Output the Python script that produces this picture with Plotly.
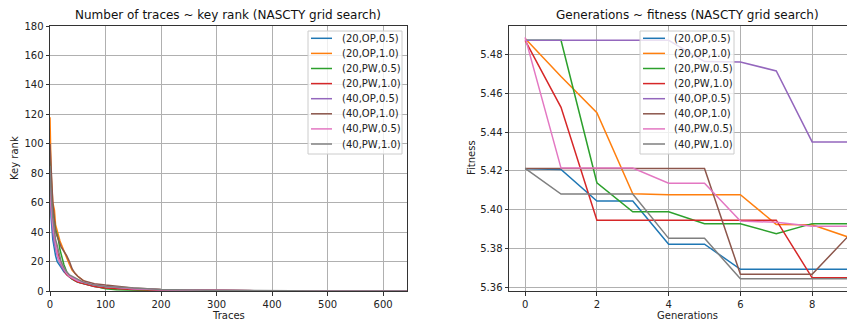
import plotly.graph_objects as go

series_names = ["(20,OP,0.5)", "(20,OP,1.0)", "(20,PW,0.5)", "(20,PW,1.0)",
                "(40,OP,0.5)", "(40,OP,1.0)", "(40,PW,0.5)", "(40,PW,1.0)"]
colors = ["#1f77b4", "#ff7f0e", "#2ca02c", "#d62728",
          "#9467bd", "#8c564b", "#e377c2", "#7f7f7f"]

# Left panel: number of traces vs key rank
traces_x = [0, 2, 5, 8, 10, 13, 15, 18, 20, 25, 30, 35, 40, 45, 50, 60, 70, 80,
            100, 120, 150, 200, 300, 400, 500, 642]
rank_20_op_05 = [70, 50, 35, 28, 24, 20, 19, 17, 16, 13, 11, 9.5, 8, 7, 6, 5, 4, 3, 2, 1.5, 1, 0.5, 0.2, 0.1, 0, 0]
rank_20_op_10 = [118, 80, 60, 55, 45, 40, 38, 34, 32, 27, 22, 18, 14, 12, 10, 7, 5, 4, 3, 2, 1.5, 0.8, 0.3, 0.1, 0, 0]
rank_20_pw_05 = [90, 70, 55, 45, 42, 38, 35, 28, 25, 18, 13, 10, 8, 7, 6, 5, 4, 3, 1.5, 0.8, 0.4, 0.2, 0.1, 0, 0, 0]
rank_20_pw_10 = [80, 60, 45, 36, 32, 27, 24, 20, 18, 14, 11, 9.5, 8, 7, 6, 5, 4, 3, 2, 1.5, 1, 0.5, 0.2, 0.1, 0, 0]
rank_40_op_05 = [65, 52, 40, 32, 28, 24, 22, 19, 17, 14, 12, 10, 9, 8, 7, 6, 5, 4, 3, 2.2, 1.5, 0.8, 0.3, 0.1, 0, 0]
rank_40_op_10 = [100, 80, 60, 48, 40, 37, 35, 32, 30, 27, 24, 20, 15, 12, 10, 7, 6, 5, 4, 3, 2, 1, 0.4, 0.1, 0, 0]
rank_40_pw_05 = [75, 58, 45, 36, 30, 25, 22, 20, 18, 15, 12, 10, 9, 8, 7, 6, 5, 4, 3, 2.2, 1.5, 0.8, 0.3, 0.1, 0, 0]
rank_40_pw_10 = [85, 65, 50, 40, 35, 31, 28, 23, 20, 16, 13, 11, 10, 9, 8, 6, 5, 4, 3, 2.5, 2, 1, 0.4, 0.1, 0, 0]
ranks = [rank_20_op_05, rank_20_op_10, rank_20_pw_05, rank_20_pw_10,
         rank_40_op_05, rank_40_op_10, rank_40_pw_05, rank_40_pw_10]

# Right panel: generations vs fitness
generations = [0, 1, 2, 3, 4, 5, 6, 7, 8, 9]
fit_20_op_05 = [5.4212, 5.4208, 5.4045, 5.4045, 5.3822, 5.3822, 5.3692, 5.3692, 5.3692, 5.3692]
fit_20_op_10 = [5.4885, 5.4688, 5.4501, 5.4082, 5.4077, 5.4077, 5.4077, 5.3924, 5.3922, 5.3859]
fit_20_pw_05 = [5.4875, 5.4875, 5.4139, 5.3989, 5.3989, 5.3927, 5.3927, 5.3876, 5.3928, 5.3928]
fit_20_pw_10 = [5.4875, 5.4529, 5.3946, 5.3946, 5.3946, 5.3946, 5.3946, 5.3946, 5.3648, 5.3648]
fit_40_op_05 = [5.4875, 5.4875, 5.4875, 5.4875, 5.4875, 5.4765, 5.4763, 5.4717, 5.4350, 5.4350]
fit_40_op_10 = [5.4213, 5.4213, 5.4213, 5.4213, 5.4213, 5.4213, 5.3666, 5.3666, 5.3666, 5.3862]
fit_40_pw_05 = [5.4890, 5.4215, 5.4215, 5.4215, 5.4137, 5.4137, 5.3941, 5.3935, 5.3915, 5.3915]
fit_40_pw_10 = [5.4213, 5.4081, 5.4081, 5.4081, 5.3852, 5.3852, 5.3643, 5.3643, 5.3643, 5.3643]
fits = [fit_20_op_05, fit_20_op_10, fit_20_pw_05, fit_20_pw_10,
        fit_40_op_05, fit_40_op_10, fit_40_pw_05, fit_40_pw_10]

fig = go.Figure()
for name, col, r in zip(series_names, colors, ranks):
    fig.add_trace(go.Scatter(x=traces_x, y=r, mode="lines", name=name,
                             line=dict(color=col, width=1.5),
                             xaxis="x", yaxis="y", showlegend=False))
for name, col, f in zip(series_names, colors, fits):
    fig.add_trace(go.Scatter(x=generations, y=f, mode="lines", name=name,
                             line=dict(color=col, width=1.5),
                             xaxis="x2", yaxis="y2", showlegend=False))

# The page body has an 8px default margin; positions below are given in the
# screenshot's pixel space and shifted by this offset.
OFF = 8
W, H = 855, 320
L = 50 - OFF
T = 26 - OFF
B = H - (291 - OFF)
R = 0
pw = W - L - R
ph = H - T - B


def px(xp):
    return (xp - OFF - L) / pw


def py(yp):
    return (H - B - (yp - OFF)) / ph


d1 = [0, px(407)]
d2 = [px(509), 1]
right_edge_ref = W + OFF  # screenshot x of the right domain edge
x2_right = -0.45 + (right_edge_ref - 509) / 35.875

axis_common = dict(showgrid=True, gridcolor="#b0b0b0", gridwidth=0.8,
                   showline=True, linecolor="#333333", linewidth=1,
                   ticks="outside", ticklen=3.5, tickcolor="#333333",
                   zeroline=False, automargin=False,
                   tickfont=dict(family="DejaVu Sans", size=10, color="#222"))
font_t = dict(family="DejaVu Sans", size=10, color="#222")

shapes = []
annotations = []

# Custom legends (matplotlib-like compact spacing)
for box_left, box_right, line_l, line_r, text_x in [(308, 402, 311, 332, 340),
                                                    (640, 734, 643, 665, 672)]:
    shapes.append(dict(type="rect", xref="paper", yref="paper",
                       x0=px(box_left), x1=px(box_right), y0=py(154), y1=py(31),
                       fillcolor="rgba(255,255,255,0.8)", line=dict(color="#cccccc", width=1),
                       layer="above"))
    for i, (name, col) in enumerate(zip(series_names, colors)):
        yc = 38.3 + i * 15.1
        shapes.append(dict(type="line", xref="paper", yref="paper",
                           x0=px(line_l), x1=px(line_r), y0=py(yc), y1=py(yc),
                           line=dict(color=col, width=1.5), layer="above"))
        annotations.append(dict(text=name, xref="paper", yref="paper",
                                x=px(text_x), y=py(yc), xanchor="left", yanchor="middle",
                                showarrow=False, font=dict(family="DejaVu Sans", size=10, color="#222")))

annotations += [
    dict(text="Number of traces ~ key rank (NASCTY grid search)", xref="paper", yref="paper",
         x=px(228), y=py(15), xanchor="center", yanchor="middle", showarrow=False,
         font=dict(family="DejaVu Sans", size=12, color="#111")),
    dict(text="Generations ~ fitness (NASCTY grid search)", xref="paper", yref="paper",
         x=px(687), y=py(15), xanchor="center", yanchor="middle", showarrow=False,
         font=dict(family="DejaVu Sans", size=12, color="#111")),
    dict(text="Traces", xref="paper", yref="paper", x=px(228), y=py(315),
         xanchor="center", yanchor="middle", showarrow=False, font=font_t),
    dict(text="Generations", xref="paper", yref="paper", x=px(687), y=py(315),
         xanchor="center", yanchor="middle", showarrow=False, font=font_t),
    dict(text="Key rank", xref="paper", yref="paper", x=px(14), y=py(158),
         xanchor="center", yanchor="middle", textangle=-90, showarrow=False, font=font_t),
    dict(text="Fitness", xref="paper", yref="paper", x=px(471), y=py(158),
         xanchor="center", yanchor="middle", textangle=-90, showarrow=False, font=font_t),
]

fig.update_layout(
    width=W, height=H,
    margin=dict(l=L, r=R, t=T, b=B, autoexpand=False),
    paper_bgcolor="white", plot_bgcolor="white",
    font=dict(family="DejaVu Sans", size=10, color="#222"),
    xaxis=dict(domain=d1, range=[0, 643], tickvals=[0, 100, 200, 300, 400, 500, 600],
               mirror=True, anchor="y", **axis_common),
    yaxis=dict(domain=[0, 1], range=[0, 180], dtick=20, mirror=True, anchor="x", **axis_common),
    xaxis2=dict(domain=d2, range=[-0.45, x2_right], tickvals=[0, 2, 4, 6, 8],
                mirror=True, anchor="y2", **axis_common),
    yaxis2=dict(domain=[0, 1], range=[5.358, 5.4949],
                tickvals=[5.36, 5.38, 5.40, 5.42, 5.44, 5.46, 5.48],
                tickformat=".2f", mirror=False, anchor="x2", **axis_common),
    shapes=shapes,
    annotations=annotations,
    showlegend=False,
)

fig.write_html("out.html")
